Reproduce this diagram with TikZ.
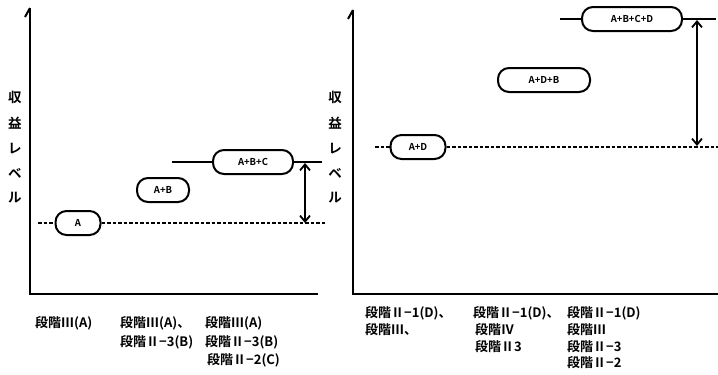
\documentclass[tikz,border=0pt]{standalone}
\usepackage{fontspec}
\newfontfamily\cjk{Noto Sans CJK JP Bold}
\usetikzlibrary{arrows.meta}
\tikzset{
  axis/.style={line width=2.6pt},
  lvl/.style={draw, line width=2pt, rounded corners=11pt, minimum height=24pt, inner sep=2pt, font=\cjk\fontsize{9.5}{10}\selectfont},
  dotline/.style={line width=1.8pt, dash pattern=on 3.5pt off 2pt},
  solidline/.style={line width=1.8pt},
  gap/.style={line width=1.8pt, {Straight Barb[length=6pt,width=10pt]}-{Straight Barb[length=6pt,width=10pt]}},
  lab/.style={anchor=west, inner sep=0pt, font=\cjk\fontsize{13}{14}\selectfont},
  ylab/.style={inner sep=0pt, font=\cjk\fontsize{13.5}{14}\selectfont},
}
\begin{document}
\begin{tikzpicture}[x=1pt,y=-1pt]
\useasboundingbox (0,0) rectangle (718,375);
% ---------- left panel ----------
\coordinate (LT) at (30,8);
\coordinate (LO) at (30,294);
\coordinate (LX) at (318,294);
\coordinate (LH) at (25,17);
\draw[axis] (LT) -- (LO) -- (LX);
\draw[line width=2pt] (LT) -- (LH);
\node[ylab] (ly1) at (15,97) {収};
\node[ylab] (ly2) at (15,123) {益};
\node[ylab] (ly3) at (15,149) {レ};
\node[ylab] (ly4) at (15,173) {ベ};
\node[ylab] (ly5) at (15,198) {ル};
\node[lvl, minimum width=45pt] (nA) at (78,223) {A};
\node[lvl, minimum width=52pt] (nAB) at (163,190) {A+B};
\node[lvl, minimum width=80pt] (nABC) at (253,162) {A+B+C};
\coordinate (d1) at (38,223);
\coordinate (d2) at (325,223);
\coordinate (s1) at (172,162);
\coordinate (s2) at (322,162);
\coordinate (g1) at (305,163);
\coordinate (g2) at (305,223);
\draw[dotline] (d1) -- (nA.west);
\draw[dotline] (nA.east) -- (d2);
\draw[solidline] (s1) -- (nABC.west);
\draw[solidline] (nABC.east) -- (s2);
\draw[gap] (g1) -- (g2);
\node[lab] (la1) at (35,323) {段階Ⅲ(A)};
\node[lab] (la2) at (120,323) {段階Ⅲ(A)、};
\node[lab] (la3) at (120,342) {段階Ⅱ−3(B)};
\node[lab] (la4) at (205,323) {段階Ⅲ(A)};
\node[lab] (la5) at (205,342) {段階Ⅱ−3(B)};
\node[lab] (la6) at (207,360) {段階Ⅱ−2(C)};
% ---------- right panel ----------
\coordinate (RT) at (353,10);
\coordinate (RO) at (353,294);
\coordinate (RX) at (718,294);
\coordinate (RH) at (348,19);
\draw[axis] (RT) -- (RO) -- (RX);
\draw[line width=2pt] (RT) -- (RH);
\node[ylab] (ry1) at (335,97) {収};
\node[ylab] (ry2) at (335,123) {益};
\node[ylab] (ry3) at (335,149) {レ};
\node[ylab] (ry4) at (335,173) {ベ};
\node[ylab] (ry5) at (335,198) {ル};
\node[lvl, minimum width=55pt] (rAD) at (418,147) {A+D};
\node[lvl, minimum width=92pt] (rADB) at (544,80) {A+D+B};
\node[lvl, minimum width=100pt] (rABCD) at (632,19) {A+B+C+D};
\coordinate (e1) at (375,147);
\coordinate (e2) at (718,147);
\coordinate (t1) at (560,19);
\coordinate (t2) at (716,19);
\coordinate (h1) at (697,20);
\coordinate (h2) at (697,146);
\draw[dotline] (e1) -- (rAD.west);
\draw[dotline] (rAD.east) -- (e2);
\draw[solidline] (t1) -- (rABCD.west);
\draw[solidline] (rABCD.east) -- (t2);
\draw[gap] (h1) -- (h2);
\node[lab] (ra1) at (365,313) {段階Ⅱ−1(D)、};
\node[lab] (ra2) at (365,330) {段階Ⅲ、};
\node[lab] (ra3) at (473,313) {段階Ⅱ−1(D)、};
\node[lab] (ra4) at (475,330) {段階Ⅳ};
\node[lab] (ra5) at (475,347) {段階Ⅱ3};
\node[lab] (ra6) at (567,313) {段階Ⅱ−1(D)};
\node[lab] (ra7) at (567,330) {段階Ⅲ};
\node[lab] (ra8) at (567,347) {段階Ⅱ−3};
\node[lab] (ra9) at (567,363) {段階Ⅱ−2};
\end{tikzpicture}
\end{document}
